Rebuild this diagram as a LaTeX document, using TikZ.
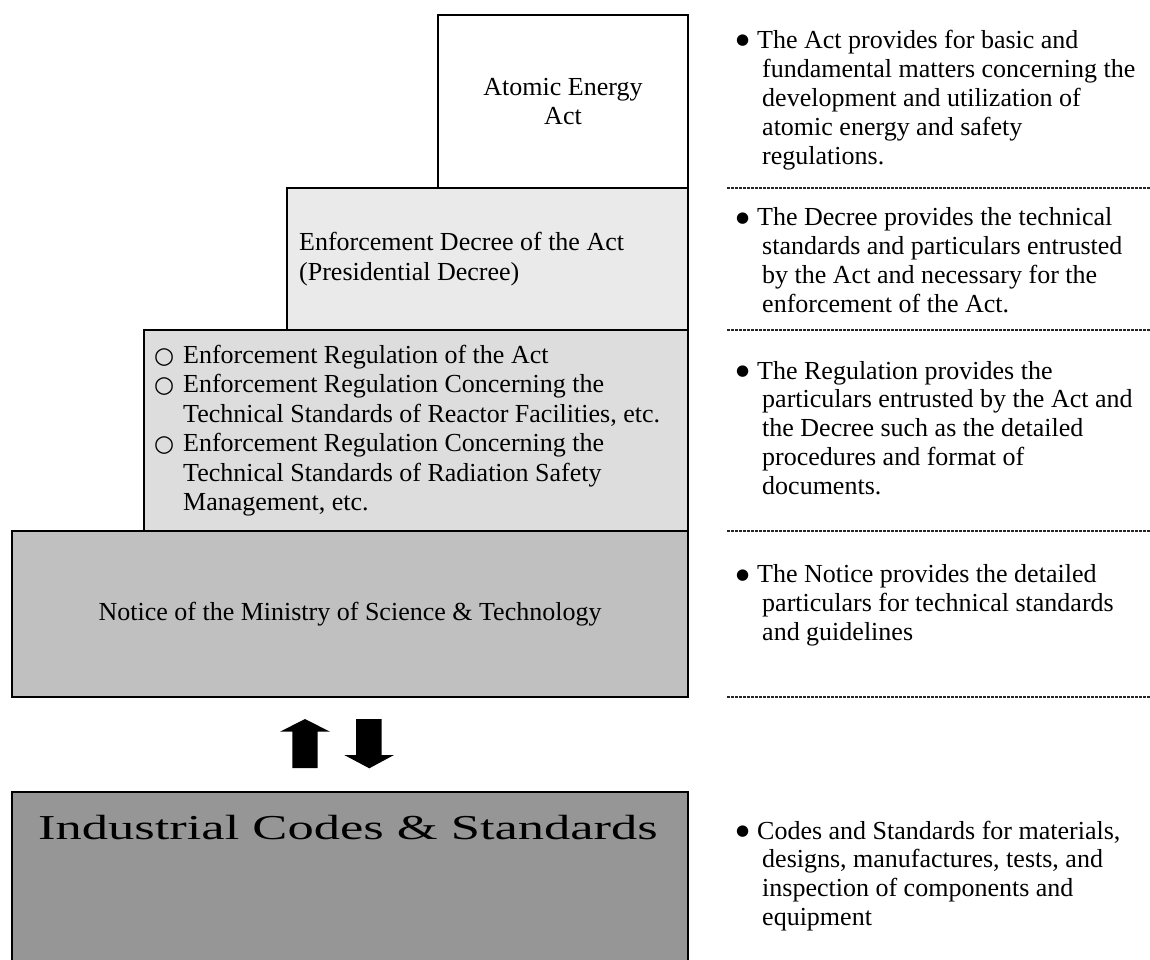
\documentclass[tikz,border=0pt]{standalone}
\usepackage{fontspec}
\setmainfont{Liberation Serif}
\newfontfamily\widefont[FakeStretch=1.5]{Liberation Serif}
\newfontfamily\symfont{DejaVu Sans}
\definecolor{tierA}{HTML}{FFFFFF}
\definecolor{tierB}{HTML}{EAEAEA}
\definecolor{tierC}{HTML}{DDDDDD}
\definecolor{tierD}{HTML}{C0C0C0}
\definecolor{tierE}{HTML}{969696}
\newcommand{\bul}{\makebox[21pt][l]{\raisebox{3.8pt}{\symfont\fontsize{15}{15}\selectfont ●}}}
\newcommand{\cont}{\hspace*{26pt}}
\newcommand{\ring}{\makebox[29pt][l]{{\symfont\fontsize{23}{23}\selectfont ○}}}
\newcommand{\ringcont}{\hspace*{29pt}}
\begin{document}
\begin{tikzpicture}[x=1pt,y=-1pt,
  tier/.style={draw=black, line width=2.8pt, rectangle, inner sep=0pt, outer sep=0pt, anchor=north west},
  body/.style={font=\fontsize{26}{29.5}\selectfont, inner sep=0pt},
  note/.style={font=\fontsize{26}{28.9}\selectfont, inner sep=0pt, anchor=west, align=left},
  sep/.style={line width=1.6pt, dash pattern=on 3pt off 1pt, black!85},
  bigarrow/.style={fill=black}
]
\useasboundingbox (0,0) rectangle (1150,959);
\clip (0,0) rectangle (1150,959);
\fill[white] (0,0) rectangle (1150,959);

% stepped hierarchy of legal instruments
\node[tier, fill=tierE, minimum width=676pt, minimum height=220pt] (codes) at (12,792) {};
\node[tier, fill=tierD, minimum width=676pt, minimum height=166pt] (notice) at (12,531) {};
\node[tier, fill=tierC, minimum width=544pt, minimum height=201pt] (regulation) at (144,330) {};
\node[tier, fill=tierB, minimum width=401pt, minimum height=142pt] (decree) at (287,188) {};
\node[tier, fill=tierA, minimum width=250pt, minimum height=173pt] (act) at (438,15) {};

\node[body, align=center] (actText) at (act.center) {Atomic Energy\\Act};
\node[body, align=left, anchor=west] (decreeText) at (299,259) {Enforcement Decree of the Act\\(Presidential Decree)};
\node[body, align=left, anchor=west] (regText) at (154,430.5) {%
\ring Enforcement Regulation of the Act\\
\ring Enforcement Regulation Concerning the\\
\ringcont Technical Standards of Reactor Facilities, etc.\\
\ring Enforcement Regulation Concerning the\\
\ringcont Technical Standards of Radiation Safety\\
\ringcont Management, etc.};
\node[body] (noticeText) at (350,614) {Notice of the Ministry of Science \& Technology};
\node[inner sep=0pt, font=\widefont\fontsize{35}{40}\selectfont] (codesText) at (348,828) {Industrial Codes \& Standards};

% two-way arrows between the notices and industrial codes
\coordinate (upTip) at (305,719);
\coordinate (downTip) at (369.3,768.3);
\fill[bigarrow] (292.3,768) -- (317.7,768) -- (317.7,731.7) -- (330,731.7) -- (upTip) -- (280,731.7) -- (292.3,731.7) -- cycle;
\fill[bigarrow] (356,719) -- (381.7,719) -- (381.7,755) -- (394,755) -- (downTip) -- (344.3,755) -- (356,755) -- cycle;

% dotted separators on the right
\coordinate (s1a) at (727,188); \coordinate (s1b) at (1150,188);
\coordinate (s2a) at (727,330); \coordinate (s2b) at (1150,330);
\coordinate (s3a) at (727,531); \coordinate (s3b) at (1150,531);
\coordinate (s4a) at (727,697); \coordinate (s4b) at (1150,697);
\draw[sep] (s1a) -- (s1b);
\draw[sep] (s2a) -- (s2b);
\draw[sep] (s3a) -- (s3b);
\draw[sep] (s4a) -- (s4b);

% explanatory notes
\node[note] (n1) at (736,100) {%
\bul The Act provides for basic and\\
\cont fundamental matters concerning the\\
\cont development and utilization of\\
\cont atomic energy and safety\\
\cont regulations.};
\node[note] (n2) at (736,260.5) {%
\bul The Decree provides the technical\\
\cont standards and particulars entrusted\\
\cont by the Act and necessary for the\\
\cont enforcement of the Act.};
\node[note] (n3) at (736,428) {%
\bul The Regulation provides the\\
\cont particulars entrusted by the Act and\\
\cont the Decree such as the detailed\\
\cont procedures and format of\\
\cont documents.};
\node[note] (n4) at (736,605.5) {%
\bul The Notice provides the detailed\\
\cont particulars for technical standards\\
\cont and guidelines};
\node[note] (n5) at (736,876) {%
\bul Codes and Standards for materials,\\
\cont designs, manufactures, tests, and\\
\cont inspection of components and\\
\cont equipment};
\end{tikzpicture}
\end{document}
